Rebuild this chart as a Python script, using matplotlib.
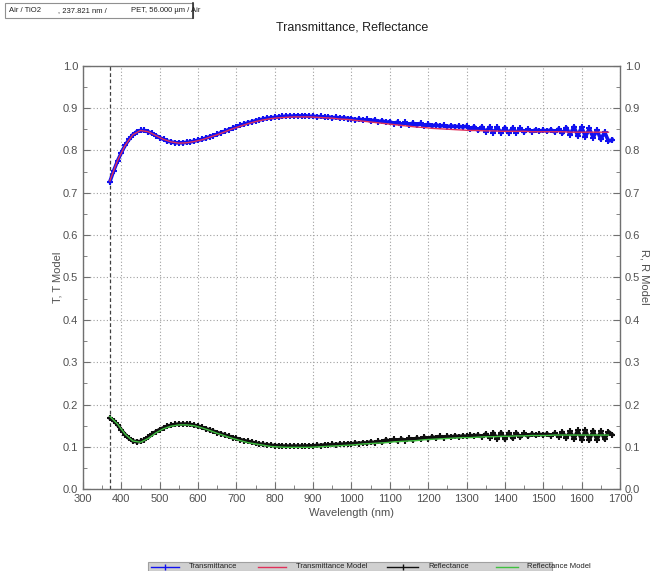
import numpy as np
import matplotlib
matplotlib.use("Agg")
import matplotlib.pyplot as plt
from matplotlib.patches import Rectangle
from matplotlib.lines import Line2D
from matplotlib.ticker import MultipleLocator

plt.rcParams['font.family'] = ['Liberation Sans', 'DejaVu Sans']

# measured spectra, 10 nm steps from 370 to 1680 nm
wl_meas = np.arange(370, 1681, 10)
T_meas = [
    0.726, 0.752, 0.775, 0.795, 0.812, 0.826, 0.837, 0.844, 0.847, 0.847,
    0.844, 0.840, 0.835, 0.830, 0.826, 0.822, 0.820, 0.818, 0.818, 0.818,
    0.819, 0.820, 0.822, 0.824, 0.826, 0.829, 0.832, 0.835, 0.838, 0.842,
    0.845, 0.849, 0.852, 0.856, 0.859, 0.862, 0.865, 0.867, 0.870, 0.872,
    0.874, 0.876, 0.877, 0.878, 0.879, 0.880, 0.881, 0.881, 0.881, 0.882,
    0.881, 0.882, 0.880, 0.881, 0.879, 0.880, 0.878, 0.879, 0.877, 0.878,
    0.876, 0.877, 0.875, 0.875, 0.872, 0.874, 0.871, 0.873, 0.869, 0.872,
    0.868, 0.870, 0.866, 0.868, 0.863, 0.867, 0.861, 0.866, 0.860, 0.865,
    0.859, 0.864, 0.858, 0.862, 0.857, 0.861, 0.857, 0.859, 0.856, 0.858,
    0.856, 0.857, 0.855, 0.857, 0.851, 0.856, 0.847, 0.856, 0.844, 0.855,
    0.842, 0.855, 0.841, 0.854, 0.841, 0.853, 0.842, 0.852, 0.843, 0.850,
    0.844, 0.849, 0.845, 0.848, 0.845, 0.849, 0.843, 0.851, 0.840, 0.854,
    0.837, 0.856, 0.834, 0.855, 0.832, 0.852, 0.830, 0.848, 0.826, 0.843,
    0.822, 0.825,
]
R_meas = [
    0.168, 0.162, 0.152, 0.140, 0.129, 0.120, 0.114, 0.112, 0.113, 0.117,
    0.123, 0.130, 0.136, 0.141, 0.145, 0.149, 0.151, 0.153, 0.154, 0.154,
    0.154, 0.153, 0.151, 0.149, 0.146, 0.143, 0.140, 0.137, 0.134, 0.131,
    0.128, 0.125, 0.122, 0.120, 0.117, 0.115, 0.113, 0.111, 0.109, 0.107,
    0.106, 0.105, 0.104, 0.103, 0.103, 0.102, 0.102, 0.102, 0.102, 0.102,
    0.102, 0.102, 0.103, 0.102, 0.104, 0.103, 0.105, 0.104, 0.106, 0.105,
    0.107, 0.106, 0.108, 0.107, 0.109, 0.108, 0.110, 0.109, 0.112, 0.110,
    0.113, 0.111, 0.117, 0.113, 0.118, 0.114, 0.119, 0.115, 0.120, 0.116,
    0.121, 0.118, 0.123, 0.119, 0.124, 0.121, 0.125, 0.122, 0.125, 0.123,
    0.126, 0.124, 0.126, 0.125, 0.127, 0.126, 0.128, 0.124, 0.131, 0.122,
    0.133, 0.119, 0.134, 0.118, 0.133, 0.120, 0.133, 0.123, 0.132, 0.125,
    0.131, 0.127, 0.130, 0.128, 0.131, 0.126, 0.133, 0.124, 0.135, 0.121,
    0.137, 0.119, 0.139, 0.117, 0.139, 0.116, 0.138, 0.117, 0.137, 0.118,
    0.136, 0.129,
]

# fitted model, 20 nm steps from 370 to 1670 nm
wl_model = np.arange(370, 1671, 20)
T_model = [
    0.728, 0.776, 0.812, 0.837, 0.847, 0.844, 0.835, 0.826, 0.820, 0.817,
    0.818, 0.821, 0.825, 0.831, 0.837, 0.844, 0.851, 0.857, 0.863, 0.868,
    0.872, 0.875, 0.877, 0.878, 0.879, 0.879, 0.879, 0.878, 0.877, 0.876,
    0.874, 0.873, 0.871, 0.869, 0.867, 0.865, 0.863, 0.861, 0.859, 0.857,
    0.855, 0.854, 0.852, 0.851, 0.850, 0.849, 0.848, 0.847, 0.847, 0.846,
    0.846, 0.845, 0.845, 0.845, 0.845, 0.844, 0.844, 0.844, 0.844, 0.844,
    0.843, 0.843, 0.843, 0.843, 0.843, 0.843,
]
R_model = [
    0.172, 0.154, 0.130, 0.114, 0.111, 0.120, 0.133, 0.143, 0.149, 0.152,
    0.152, 0.150, 0.145, 0.139, 0.132, 0.126, 0.120, 0.115, 0.110, 0.107,
    0.104, 0.101, 0.100, 0.099, 0.099, 0.099, 0.099, 0.100, 0.101, 0.102,
    0.103, 0.104, 0.105, 0.107, 0.108, 0.109, 0.110, 0.112, 0.113, 0.114,
    0.115, 0.117, 0.118, 0.119, 0.120, 0.121, 0.122, 0.122, 0.123, 0.124,
    0.124, 0.125, 0.125, 0.126, 0.126, 0.127, 0.127, 0.127, 0.128, 0.128,
    0.128, 0.128, 0.128, 0.128, 0.128, 0.128,
]

start_wl = 370
x_ticks = np.arange(300, 1701, 100)
y_ticks = np.round(np.arange(0.0, 1.01, 0.1), 1)

c_T = '#1010f0'
c_Tm = '#e0305a'
c_R = '#101010'
c_Rm = '#40c040'
axis_grey = '#707070'
text_grey = '#505050'

fig = plt.figure(figsize=(6.52, 5.71), dpi=100)
fig.patch.set_facecolor('white')
ax = fig.add_axes([0.1273, 0.1431, 0.8236, 0.7419])

meas_style = dict(lw=2.6, marker='+', ms=4.5, mew=1.5, zorder=3)
ax.plot(wl_meas, T_meas, color=c_T, **meas_style)
ax.plot(wl_model, T_model, color=c_Tm, lw=1.0, zorder=4)
ax.plot(wl_meas, R_meas, color=c_R, **meas_style)
ax.plot(wl_model, R_model, color=c_Rm, lw=1.0, zorder=4)

ax.axvline(start_wl, color='#404040', lw=0.9, ls=(0, (3, 2)), zorder=2)

ax.set_xlim(300, 1700)
ax.set_ylim(0.0, 1.0)
ax.set_xticks(x_ticks)
ax.set_yticks(y_ticks)
ax.set_yticklabels([f'{v:.1f}' for v in y_ticks])
ax.xaxis.set_minor_locator(MultipleLocator(50))
ax.yaxis.set_minor_locator(MultipleLocator(0.05))
ax.grid(True, which='major', color='#a0a0a0', ls=(0, (1, 2)), lw=0.8)

ax.tick_params(which='both', direction='in', colors=axis_grey, labelcolor=text_grey,
               labelsize=8, right=True, labelright=True)
ax.tick_params(which='major', length=5)
ax.tick_params(which='minor', length=3)
for s in ax.spines.values():
    s.set_color(axis_grey)
    s.set_linewidth(1.0)

ax.set_xlabel('Wavelength (nm)', fontsize=8, color=text_grey, labelpad=3)
fig.text(57 / 652, 1 - 277 / 571, 'T, T Model', rotation=90, fontsize=8,
         color=text_grey, ha='center', va='center')
fig.text(644 / 652, 1 - 277 / 571, 'R, R Model', rotation=270, fontsize=8,
         color=text_grey, ha='center', va='center')

fig.text(352 / 652, 1 - 27 / 571, 'Transmittance, Reflectance', ha='center', va='center',
         fontsize=9, color='#202020')

# layer stack box, top left
fig.patches.append(Rectangle((5 / 652, 1 - 18 / 571), 188 / 652, 15 / 571,
                             transform=fig.transFigure, facecolor='white',
                             edgecolor='#909090', lw=0.8))
fig.add_artist(Line2D([193 / 652, 193 / 652], [1 - 18 / 571, 1 - 3 / 571],
                      transform=fig.transFigure, color='#303030', lw=1.2))
for xpix, txt in [(9, 'Air / TiO2'), (58, ', 237.821 nm /'), (131, 'PET, 56.000 µm / Air')]:
    fig.text(xpix / 652, 1 - 10.5 / 571, txt, fontsize=5.5, va='center', ha='left',
             color='#202020')

# legend strip along the bottom edge
fig.patches.append(Rectangle((148 / 652, 0), 404 / 652, 9 / 571,
                             transform=fig.transFigure, facecolor='#d0d0d0',
                             edgecolor='#a0a0a0', lw=0.8))
ly = 4 / 571
legend_items = [
    (151, 179, 189, 'Transmittance', c_T, True),
    (258, 286, 296, 'Transmittance Model', c_Tm, False),
    (387, 418, 428, 'Reflectance', c_R, True),
    (496, 518, 527, 'Reflectance Model', c_Rm, False),
]
for x0, x1, xt, label, col, mk in legend_items:
    fig.add_artist(Line2D([x0 / 652, x1 / 652], [ly, ly], transform=fig.transFigure,
                          color=col, lw=1.0))
    if mk:
        fig.add_artist(Line2D([(x0 + x1) / 2 / 652], [ly], transform=fig.transFigure,
                              color=col, marker='|', ms=5, mew=1.0, lw=0))
    fig.text(xt / 652, ly, label, fontsize=5.5, va='center', ha='left', color='#202020')

fig.savefig('out.png', dpi=100, facecolor='white')
